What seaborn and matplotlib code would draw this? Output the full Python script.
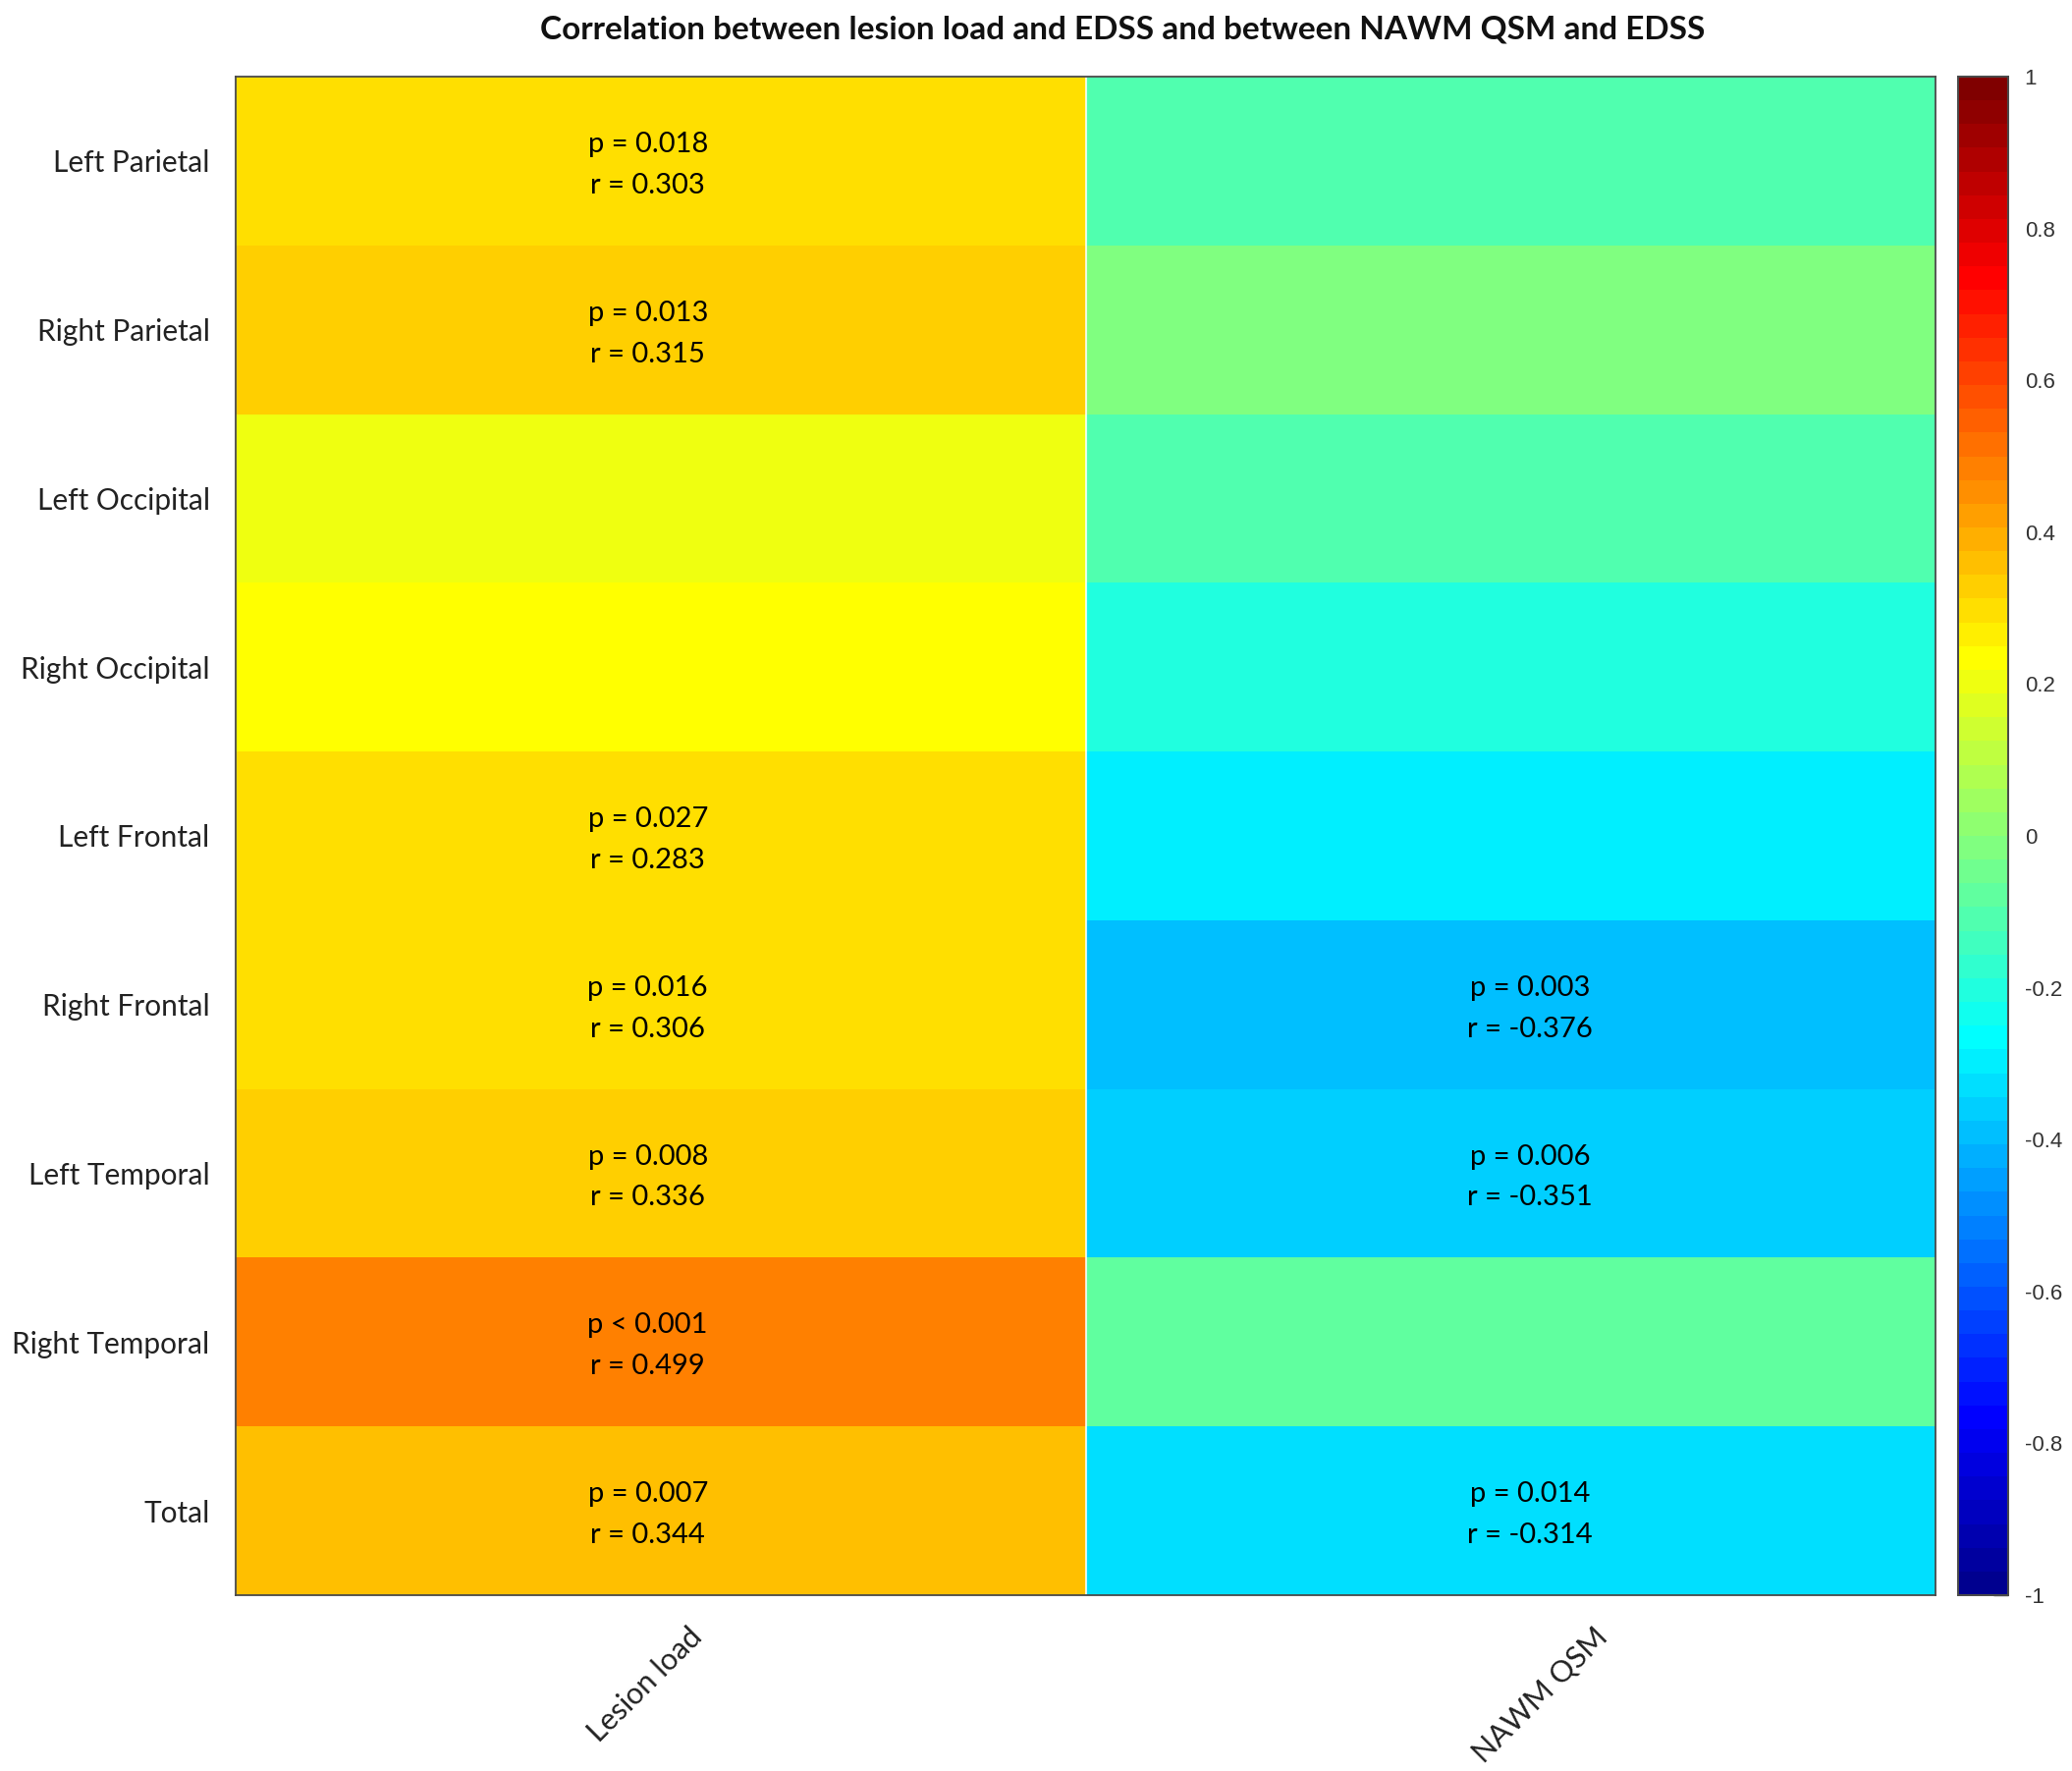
import numpy as np
import pandas as pd
import matplotlib
matplotlib.use("Agg")
import matplotlib.pyplot as plt
from matplotlib.colors import ListedColormap
from matplotlib.transforms import ScaledTranslation
import seaborn as sns

# ---------------- data ----------------
regions = ["Left Parietal", "Right Parietal", "Left Occipital", "Right Occipital",
           "Left Frontal", "Right Frontal", "Left Temporal", "Right Temporal", "Total"]
measures = ["Lesion load", "NAWM QSM"]

r_lesion = [0.303, 0.315, 0.20, 0.23, 0.283, 0.306, 0.336, 0.499, 0.344]
r_nawm = [-0.11, -0.01, -0.11, -0.20, -0.29, -0.376, -0.351, -0.08, -0.314]

p_lesion = ["0.018", "0.013", "", "", "0.027", "0.016", "0.008", "< 0.001", "0.007"]
p_nawm = ["", "", "", "", "", "0.003", "0.006", "", "0.014"]
r_lesion_txt = ["0.303", "0.315", "", "", "0.283", "0.306", "0.336", "0.499", "0.344"]
r_nawm_txt = ["", "", "", "", "", "-0.376", "-0.351", "", "-0.314"]

title = "Correlation between lesion load and EDSS and between NAWM QSM and EDSS"
cbar_ticks = [-1, -0.8, -0.6, -0.4, -0.2, 0, 0.2, 0.4, 0.6, 0.8, 1]


# ---------------- MATLAB-style jet(64) colormap ----------------
def matlab_jet(m=64):
    n = int(np.ceil(m / 4))
    u = np.concatenate([np.arange(1, n + 1) / n, np.ones(n - 1), np.arange(n, 0, -1) / n])
    g = int(np.ceil(n / 2)) - (1 if m % 4 == 1 else 0) + np.arange(1, len(u) + 1)
    r = g + n
    b = g - n
    J = np.zeros((m, 3))
    for idx, ch in ((r, 0), (g, 1), (b, 2)):
        mask = (idx >= 1) & (idx <= m)
        J[idx[mask] - 1, ch] = u[mask]
    return ListedColormap(J)


cmap = matlab_jet(64)

df = pd.DataFrame({measures[0]: r_lesion, measures[1]: r_nawm}, index=regions)


def lab(p, r):
    if p == "":
        return ""
    if p.startswith("<"):
        return f"p {p}\nr = {r}"
    return f"p = {p}\nr = {r}"


annot = np.array([[lab(p_lesion[i], r_lesion_txt[i]), lab(p_nawm[i], r_nawm_txt[i])]
                  for i in range(len(regions))])

# ---------------- plot ----------------
sns.set_theme(style="white")
plt.rcParams["font.family"] = ["Lato", "DejaVu Sans"]
plt.rcParams["axes.unicode_minus"] = False

W, H = 2110, 1803
DPI = 100
fig = plt.figure(figsize=(W / DPI, H / DPI), dpi=DPI)
ax = fig.add_axes([240 / W, 1 - 1624 / H, (1971 - 240) / W, (1624 - 78) / H])
cax = fig.add_axes([1994 / W, 1 - 1624 / H, 51 / W, (1624 - 78) / H])

sns.heatmap(df, ax=ax, cbar_ax=cax, cmap=cmap, vmin=-1, vmax=1,
            annot=annot, fmt="",
            annot_kws={"fontsize": 21, "color": "black", "family": ["Lato", "DejaVu Sans"],
                       "linespacing": 1.75},
            cbar_kws={"ticks": cbar_ticks})

# nudge annotations as in the reference rendering
for t in ax.texts:
    x, _ = t.get_position()
    dx = -13 if x < 1 else 20
    t.set_transform(t.get_transform() + ScaledTranslation(dx / DPI, -4 / DPI, fig.dpi_scale_trans))

# thin separator between the two columns
ax.axvline(1, color="white", lw=1.5, alpha=0.8)

# frame
for s in ax.spines.values():
    s.set_visible(True)
    s.set_color("#4a4a4a")
    s.set_linewidth(1.3)

# y ticks
ax.set_yticklabels(regions, rotation=0, fontsize=21.5, va="center_baseline")
ax.tick_params(axis="y", direction="in", length=11, width=1.0, color="#333333",
               pad=19, left=True, labelcolor="#222222")
# x ticks
ax.set_xticklabels(measures, rotation=45, ha="center", va="top", fontsize=22)
ax.tick_params(axis="x", length=0, pad=20, labelcolor="#222222")
x_offsets = [-16, 30]
for lbl, dx in zip(ax.get_xticklabels(), x_offsets):
    lbl.set_transform(lbl.get_transform() + ScaledTranslation(dx / DPI, 0, fig.dpi_scale_trans))
ax.set_xlabel("")
ax.set_ylabel("")

# colorbar
cax.tick_params(direction="in", length=11, width=1.0, color="#333333", right=True,
                labelsize=16, pad=12, labelcolor="#333333")
cax.set_yticklabels([("%g" % t) for t in cbar_ticks],
                    fontfamily=["Liberation Sans", "DejaVu Sans"])
for s in cax.spines.values():
    s.set_visible(True)
    s.set_color("#4a4a4a")
    s.set_linewidth(1.3)
cb = ax.collections[0].colorbar
cb.outline.set_visible(True)
cb.outline.set_edgecolor("#4a4a4a")
cb.outline.set_linewidth(1.3)

fig.text(1143 / W, 1 - 30 / H, title, ha="center", va="center",
         fontsize=24, fontweight="bold", color="#111111")

fig.savefig("out.png", dpi=DPI)
